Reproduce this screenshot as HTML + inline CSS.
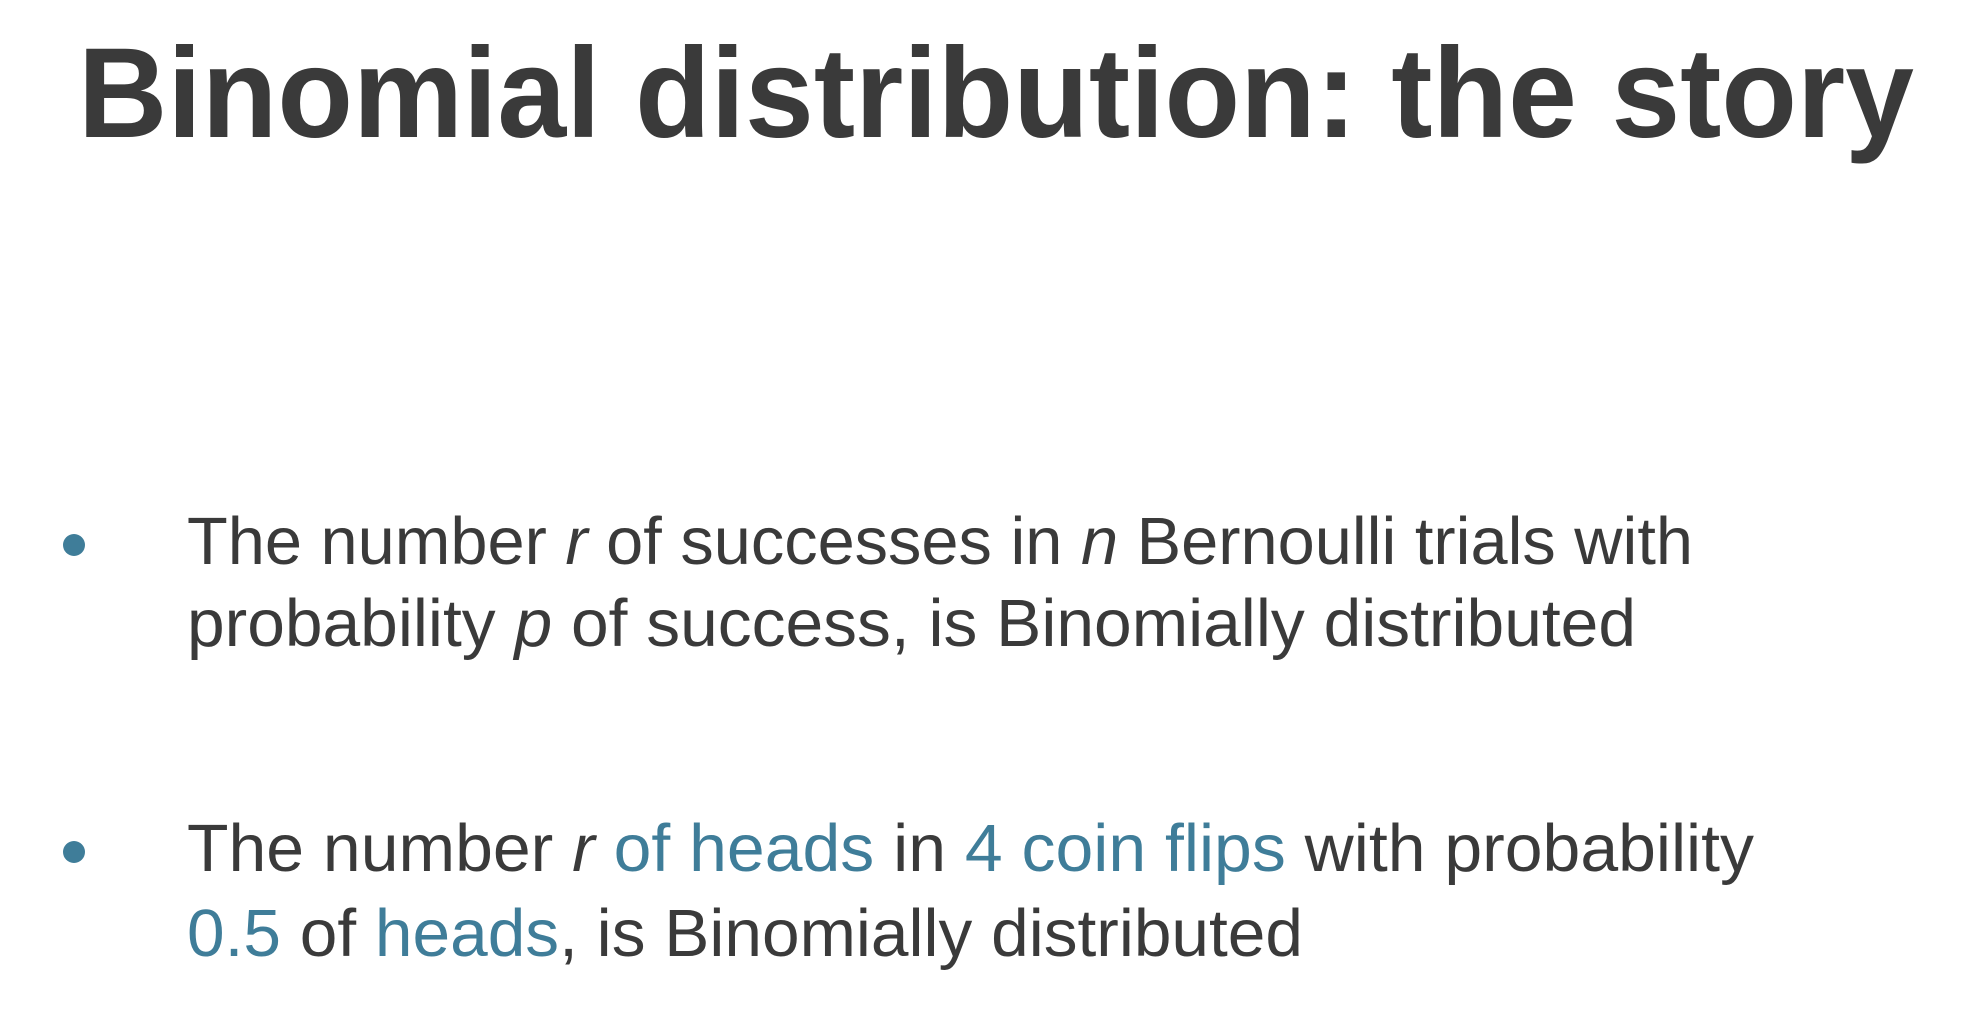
<!DOCTYPE html>
<html><head><meta charset="utf-8"><style>
html,body{margin:0;padding:0;background:#fff;width:1974px;height:1016px;overflow:hidden}
svg{display:block}
text{font-family:"Liberation Sans",sans-serif;fill:#3a3a3a}
.b{fill:#3f7d99}
</style></head><body>
<svg width="1974" height="1016" viewBox="0 0 1974 1016">
<text x="78" y="137" font-size="128" font-weight="bold" textLength="1836" lengthAdjust="spacingAndGlyphs">Binomial distribution: the story</text>
<circle cx="74" cy="545" r="11" fill="#3f7d99"/>
<text x="187" y="564" font-size="67" textLength="1506" lengthAdjust="spacingAndGlyphs">The number <tspan font-style="italic">r</tspan> of successes in <tspan font-style="italic">n</tspan> Bernoulli trials with</text>
<text x="187" y="646" font-size="67" textLength="1449" lengthAdjust="spacingAndGlyphs">probability <tspan font-style="italic">p</tspan> of success, is Binomially distributed</text>
<circle cx="74" cy="852" r="11" fill="#3f7d99"/>
<text x="187" y="871" font-size="67" textLength="1567" lengthAdjust="spacingAndGlyphs">The number <tspan font-style="italic">r</tspan> <tspan class="b">of heads</tspan> in <tspan class="b">4 coin flips</tspan> with probability</text>
<text x="187" y="956" font-size="67" textLength="1116" lengthAdjust="spacingAndGlyphs"><tspan class="b">0.5</tspan> of <tspan class="b">heads</tspan>, is Binomially distributed</text>
</svg>
</body></html>
